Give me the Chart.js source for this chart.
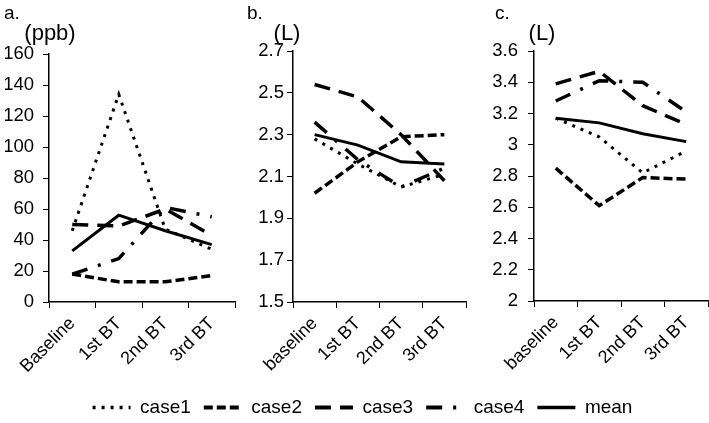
<!DOCTYPE html>
<html>
<head>
<meta charset="utf-8">
<script src="https://cdn.jsdelivr.net/npm/chart.js@4.4.1/dist/chart.umd.min.js"></script>
<style>
  body { margin: 0; background: #fff; overflow: hidden; }
  #wrap { position: relative; width: 709px; height: 423px; overflow: hidden; }
  canvas { position: absolute; }
</style>
</head>
<body>
<div id="wrap">
  <canvas id="chartA" width="240" height="390" style="left:0;top:0"></canvas>
  <canvas id="chartB" width="230" height="390" style="left:240px;top:0"></canvas>
  <canvas id="chartC" width="239" height="390" style="left:470px;top:0"></canvas>
  <canvas id="legend" width="709" height="50" style="left:0;top:385px"></canvas>
</div>
<script>
var FONT = '"Liberation Sans", Arial, sans-serif';
Chart.defaults.font.family = FONT;
Chart.defaults.color = '#000';

var labelsA = ['Baseline', '1st BT', '2nd BT', '3rd BT'];
var labelsBC = ['baseline', '1st BT', '2nd BT', '3rd BT'];
var seriesNames = ['case1', 'case2', 'case3', 'case4', 'mean'];

// a. (ppb)
var case1A = [46, 134, 47, 34];
var case2A = [18, 13, 13, 17];
var case3A = [50, 49, 60, 43];
var case4A = [18, 28, 61, 55];
var meanA = [33, 56, 46, 37];

// b. (L)
var case1B = [2.28, 2.16, 2.05, 2.11];
var case2B = [2.02, 2.17, 2.29, 2.30];
var case3B = [2.54, 2.48, 2.30, 2.08];
var case4B = [2.36, 2.18, 2.05, 2.14];
var meanB = [2.30, 2.25, 2.17, 2.16];

// c. (L)
var case1C = [3.17, 3.05, 2.82, 2.96];
var case2C = [2.85, 2.61, 2.79, 2.78];
var case3C = [3.39, 3.47, 3.25, 3.13];
var case4C = [3.28, 3.41, 3.40, 3.21];
var meanC = [3.17, 3.14, 3.07, 3.02];

var dashes = [[3, 6], [9, 4], [16, 9], [16, 11, 3, 11], []];
var widths = [3, 3.5, 3.5, 3.5, 3];

function makeDatasets(values) {
    return values.map(function (v, i) {
        return {
            label: seriesNames[i],
            data: v,
            borderColor: '#000',
            backgroundColor: '#000',
            borderWidth: widths[i],
            borderDash: dashes[i],
            pointRadius: 0,
            tension: 0,
            fill: false
        };
    });
}

var panelText = {
    id: 'panelText',
    afterDraw: function (chart, args, opts) {
        var ctx = chart.ctx;
        ctx.save();
        ctx.fillStyle = '#000';
        ctx.textBaseline = 'middle';
        ctx.font = '19px ' + FONT;
        ctx.textAlign = 'left';
        ctx.fillText(opts.letter, opts.letterX, 14);
        ctx.font = '22px ' + FONT;
        ctx.textAlign = 'center';
        ctx.fillText(opts.unit, opts.unitX, 34);
        ctx.restore();
    }
};

function makeChart(id, labels, values, yMin, yMax, yStep, yWidth, yPad, pad, text) {
    return new Chart(document.getElementById(id), {
        type: 'line',
        data: { labels: labels, datasets: makeDatasets(values) },
        plugins: [panelText],
        options: {
            responsive: false,
            animation: false,
            layout: { padding: pad },
            plugins: { legend: { display: false }, tooltip: { enabled: false }, panelText: text },
            scales: {
                x: {
                    offset: true,
                    grid: { offset: true, drawOnChartArea: false, tickLength: 6, color: '#000' },
                    border: { color: '#000', width: 1.5 },
                    ticks: { autoSkip: false, minRotation: 45, maxRotation: 45, font: { size: 18 }, padding: 5 },
                    afterFit: function (s) { s.height = 88; }
                },
                y: {
                    min: yMin,
                    max: yMax,
                    ticks: {
                        stepSize: yStep,
                        font: { size: 18.5 },
                        padding: yPad,
                        callback: function (v) { return String(+v.toFixed(1)); }
                    },
                    grid: { drawOnChartArea: false, tickLength: 6, color: '#000' },
                    border: { color: '#000', width: 1.5 },
                    afterFit: function (s) { s.width = yWidth; }
                }
            }
        }
    });
}

makeChart('chartA', labelsA, [case1A, case2A, case3A, case4A, meanA], 0, 160, 20, 44, 9,
    { left: 5, right: 5, top: 54, bottom: 0 }, { letter: 'a.', letterX: 4, unit: '(ppb)', unitX: 50 });
makeChart('chartB', labelsBC, [case1B, case2B, case3B, case4B, meanB], 1.5, 2.7, 0.2, 48, 3,
    { left: 5, right: 4, top: 51, bottom: 0 }, { letter: 'b.', letterX: 7, unit: '(L)', unitX: 47 });
makeChart('chartC', labelsBC, [case1C, case2C, case3C, case4C, meanC], 2, 3.6, 0.2, 59, 10,
    { left: 5, right: 1, top: 51, bottom: 1 }, { letter: 'c.', letterX: 25, unit: '(L)', unitX: 72 });

new Chart(document.getElementById('legend'), {
    type: 'line',
    data: { labels: [], datasets: makeDatasets([[], [], [], [], []]) },
    options: {
        responsive: false,
        animation: false,
        layout: { padding: { left: 16 } },
        scales: { x: { display: false }, y: { display: false } },
        plugins: {
            tooltip: { enabled: false },
            legend: {
                position: 'top',
                maxHeight: 50,
                labels: {
                    usePointStyle: true,
                    pointStyleWidth: 38,
                    padding: 13,
                    font: { size: 19 },
                    color: '#000',
                    generateLabels: function (chart) {
                        return chart.data.datasets.map(function (ds, i) {
                            return {
                                text: ds.label,
                                datasetIndex: i,
                                strokeStyle: '#000',
                                fillStyle: 'rgba(0,0,0,0)',
                                lineWidth: ds.borderWidth + 0.5,
                                lineDash: ds.borderDash,
                                lineCap: 'butt',
                                pointStyle: 'line',
                                hidden: false,
                                fontColor: '#000'
                            };
                        });
                    }
                }
            }
        }
    }
});
</script>
</body>
</html>
